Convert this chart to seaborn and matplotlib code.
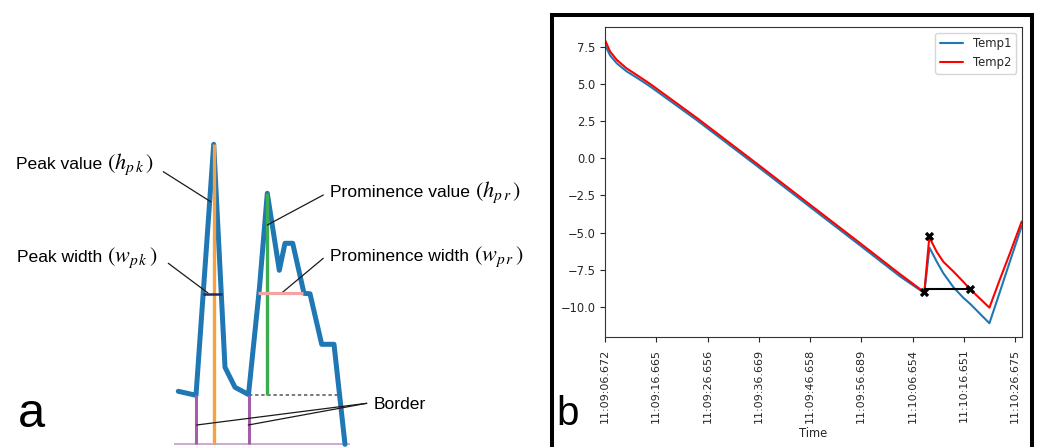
import numpy as np
import pandas as pd
import matplotlib
matplotlib.use("Agg")
import matplotlib.pyplot as plt
import seaborn as sns
from matplotlib.patches import Rectangle

# ---------------- Panel a: schematic signal ----------------
sig_x = [0.43, 2.2, 3.97, 5.1, 6.1, 7.45, 8.55, 9.33, 10.53, 11.1, 11.87, 13.0, 13.6, 14.77, 16.0, 17.1]
sig_y = [5.3, 4.9, 30.0, 7.7, 5.7, 4.98, 15.7, 25.1, 17.4, 20.1, 20.1, 15.1, 15.05, 10.0, 10.0, 0.0]
peak_x, peak_h = 3.97, 30.0
prom_x, prom_top, prom_base = 9.33, 25.1, 4.96
border_xs = [2.2, 7.47]
pk_w_left, pk_w_right, pk_w_level = 2.93, 4.77, 15.08
pr_w_left, pr_w_right, pr_w_level = 8.43, 12.93, 15.13
base_left, base_right = 0.0, 17.6
dash_left, dash_right = 7.47, 16.6

# ---------------- Panel b: temperature series ----------------
time_s = [0, 1.0, 2.3, 4.2, 6.2, 8.8, 18.0, 30, 40, 50, 57.6, 62.3, 63.3, 63.7,
          64.7, 66.0, 68.0, 69.9, 71.2, 75.0, 77.0, 79.0, 81.3]
temp1 = [7.66, 6.95, 6.42, 5.88, 5.45, 4.86, 2.56, -0.6, -3.27, -5.93, -7.97, -9.08, -6.02, -6.28,
         -6.95, -7.74, -8.70, -9.40, -9.80, -11.12, -9.05, -6.95, -4.56]
temp2 = [7.99, 7.21, 6.65, 6.08, 5.63, 5.03, 2.71, -0.45, -3.12, -5.78, -7.82, -9.03, -5.21, -5.61,
         -6.29, -6.97, -7.64, -8.32, -8.81, -10.07, -8.2, -6.4, -4.26]
mark_t = [62.3, 63.3, 71.2]
mark_v = [-9.03, -5.21, -8.81]
width_left, width_right, width_level = 62.3, 71.2, -8.81
xtick_pos = [0, 10, 20, 30, 40, 50, 60, 70, 80]
xtick_labels = ["11:09:06.672", "11:09:16.665", "11:09:26.656", "11:09:36.669",
                "11:09:46.658", "11:09:56.689", "11:10:06.654", "11:10:16.651",
                "11:10:26.675"]
ytick_pos = [-10.0, -7.5, -5.0, -2.5, 0.0, 2.5, 5.0, 7.5]

sns.set_style("ticks")
plt.rcParams.update({
    "font.family": ["DejaVu Sans"],
    "mathtext.fontset": "stix",
    "text.color": "black",
})

W, H = 1038, 447
fig = plt.figure(figsize=(W / 100, H / 100), dpi=100)

# ---------------- Panel a ----------------
axa = fig.add_axes([0, 0, 550 / W, 1])
axa.set_xlim(-17.4, 37.6)
axa.set_ylim(-0.27, 44.43)
axa.axis("off")

sns.lineplot(x=sig_x, y=sig_y, ax=axa, color="#1f77b4", lw=3.6, sort=False,
             estimator=None, solid_joinstyle="round", zorder=2)
axa.hlines(0, base_left, base_right, color="#c9a2d0", lw=1.3, zorder=1)
axa.vlines(border_xs, 0, prom_base, color="#a45da8", lw=2.2, zorder=3)
axa.vlines(peak_x, 0, peak_h, color="#f8a13f", lw=2.4, zorder=3)
axa.vlines(prom_x, prom_base, prom_top, color="#3dae4f", lw=2.4, zorder=3)
axa.hlines(prom_base, dash_left, dash_right, color="#555555", lw=1.1,
           linestyles=(0, (2.2, 1.8)), zorder=1)
axa.hlines(pk_w_level, pk_w_left, pk_w_right, color="#1f2d5c", lw=1.8, zorder=4)
axa.hlines(pr_w_level, pr_w_left, pr_w_right, color="#f4a3a3", lw=2.3, zorder=4)

tfam = ["Liberation Sans", "DejaVu Sans"]
TFS = 12.6
MFS = 16


def label_with_math(x, y, plain, math):
    t = axa.text(x, y, plain, va="baseline", ha="left", family=tfam,
                 fontsize=TFS, color="black")
    axa.annotate(math, xy=(1.0, y), xycoords=(t, "data"), va="baseline",
                 ha="left", fontsize=MFS, color="black")
    return t


label_with_math(-15.8, 27.5, "Peak value ", r"$(h_{p\,k}\,)$")
label_with_math(-15.7, 18.2, "Peak width ", r"$(w_{p\,k}\,)$")
label_with_math(15.6, 24.7, "Prominence value ", r"$(h_{p\,r}\,)$")
label_with_math(15.6, 18.36, "Prominence width ", r"$(w_{p\,r}\,)$")
axa.text(19.93, 3.5, "Border", va="baseline", ha="left", family=tfam,
         fontsize=TFS, color="black")

lp = dict(arrowstyle="-", color="#1a1a1a", lw=0.9, shrinkA=0, shrinkB=0)
axa.annotate("", xy=(3.67, 24.26), xytext=(-1.07, 27.26), arrowprops=lp)
axa.annotate("", xy=(3.4, 15.13), xytext=(-0.57, 18.1), arrowprops=lp)
axa.annotate("", xy=(9.33, 21.93), xytext=(14.93, 24.93), arrowprops=lp)
axa.annotate("", xy=(10.77, 15.13), xytext=(14.93, 18.6), arrowprops=lp)
axa.annotate("", xy=(2.27, 1.93), xytext=(19.27, 4.1), arrowprops=lp)
axa.annotate("", xy=(7.43, 1.93), xytext=(19.27, 4.1), arrowprops=lp)
fig.text(18 / W, 1 - 427 / H, "a", fontsize=35, ha="left", va="baseline",
         family=tfam, color="black")

# ---------------- Panel b ----------------
axb = fig.add_axes([605 / W, 1 - 336.7 / H, (1021.7 - 605) / W, (336.7 - 26.7) / H])
axb.set_facecolor("white")
sns.lineplot(x=time_s, y=temp1, ax=axb, color="#1f77b4", lw=1.5, label="Temp1",
             sort=False, estimator=None)
sns.lineplot(x=time_s, y=temp2, ax=axb, color="red", lw=1.5, label="Temp2",
             sort=False, estimator=None)
axb.hlines(width_level, width_left, width_right, color="black", lw=1.5, zorder=4)
sns.scatterplot(x=mark_t, y=mark_v, ax=axb, marker="X", color="black", s=45,
                linewidth=0, zorder=5)
axb.set_xlim(0, 81.3)
axb.set_ylim(-12.03, 8.89)
axb.set_xticks(xtick_pos)
axb.set_xticklabels(xtick_labels, rotation=90, fontsize=8.0)
axb.set_yticks(ytick_pos)
axb.set_yticklabels([f"{v:.1f}".replace("-", "\u2212") for v in ytick_pos], fontsize=8.3)
axb.set_xlabel("Time", fontsize=8.3, labelpad=3, color="#262626")
axb.set_ylabel("")
axb.tick_params(axis="both", direction="out", length=3.5, width=0.8, colors="#262626")
axb.tick_params(axis="x", pad=5)
for s in axb.spines.values():
    s.set_visible(True)
    s.set_color("#333333")
    s.set_linewidth(0.8)
leg = axb.legend(loc="upper right", fontsize=8.4, frameon=True, fancybox=True,
                 framealpha=0.8, edgecolor="#cccccc")
for txt in leg.get_texts():
    txt.set_color("#262626")

fig.add_artist(Rectangle((551.5 / W, -0.1), (1032 - 551.5) / W, 1 - 15.3 / H + 0.1,
                         transform=fig.transFigure, fill=False, lw=2.9,
                         edgecolor="black", zorder=10))
fig.text(556 / W, 1 - 425 / H, "b", fontsize=29, ha="left", va="baseline",
         family=tfam, color="black")

fig.savefig("out.png", dpi=100, facecolor="white")
